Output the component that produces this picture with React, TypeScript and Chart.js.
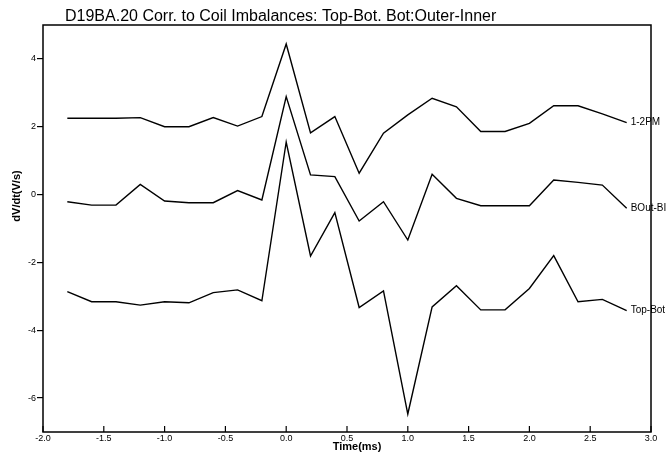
import React, { useEffect, useRef } from "react";
import { Chart, registerables } from "chart.js";

Chart.register(...registerables);

// ---- data ----
const times = [
  -1.8, -1.6, -1.4, -1.2, -1.0, -0.8, -0.6, -0.4, -0.2, 0.0, 0.2, 0.4,
  0.6, 0.8, 1.0, 1.2, 1.4, 1.6, 1.8, 2.0, 2.2, 2.4, 2.6, 2.8,
];
const series12PM = [
  2.25, 2.25, 2.25, 2.27, 2.0, 2.0, 2.27, 2.02, 2.3, 4.44, 1.82, 2.3,
  0.63, 1.81, 2.35, 2.84, 2.59, 1.86, 1.86, 2.1, 2.62, 2.62, 2.38, 2.12,
];
const seriesBOutBI = [
  -0.21, -0.31, -0.31, 0.3, -0.19, -0.24, -0.24, 0.12, -0.16, 2.89, 0.58, 0.53,
  -0.78, -0.21, -1.34, 0.6, -0.11, -0.33, -0.33, -0.33, 0.43, 0.36, 0.28, -0.4,
];
const seriesTopBot = [
  -2.86, -3.16, -3.16, -3.26, -3.16, -3.19, -2.89, -2.81, -3.13, 1.55, -1.81, -0.53,
  -3.33, -2.84, -6.47, -3.31, -2.69, -3.4, -3.4, -2.77, -1.8, -3.16, -3.09, -3.42,
];
const seriesNames = ["1-2PM", "BOut-BI", "Top-Bot"];
const xTickValues = [-2, -1.5, -1, -0.5, 0, 0.5, 1, 1.5, 2, 2.5, 3];
const yTickValues = [-6, -4, -2, 0, 2, 4];
const chartTitle = "D19BA.20 Corr. to Coil Imbalances: Top-Bot. Bot:Outer-Inner";
const xTitle = "Time(ms)";
const yTitle = "dV/dt(V/s)";

const FONT = '"Liberation Sans", Arial, Helvetica, sans-serif';

const toPoints = (vals: number[]) => times.map((t, i) => ({ x: t, y: vals[i] }));

const decorPlugin = {
  id: "decor",
  afterDraw(chart: any) {
    const { ctx, chartArea } = chart;
    const { left, top, right, bottom } = chartArea;
    const xs = chart.scales.x;
    ctx.save();
    ctx.strokeStyle = "#000";
    ctx.fillStyle = "#000";
    // frame
    ctx.lineWidth = 1.5;
    ctx.strokeRect(left, top, right - left, bottom - top);
    // inward x ticks
    ctx.lineWidth = 1.2;
    xTickValues.forEach((v) => {
      const px = xs.getPixelForValue(v);
      ctx.beginPath();
      ctx.moveTo(px, bottom);
      ctx.lineTo(px, bottom - 6);
      ctx.stroke();
    });
    // title
    ctx.font = `16px ${FONT}`;
    ctx.textAlign = "left";
    ctx.textBaseline = "alphabetic";
    ctx.fillText(chartTitle, 65, 20.5);
    // x title
    ctx.font = `bold 11px ${FONT}`;
    ctx.textAlign = "center";
    ctx.fillText(xTitle, 357, 450);
    // y title
    ctx.save();
    ctx.translate(17, 196);
    ctx.rotate(-Math.PI / 2);
    ctx.textAlign = "center";
    ctx.textBaseline = "middle";
    ctx.font = `bold 11px ${FONT}`;
    ctx.fillText(yTitle, 0, 0);
    ctx.restore();
    // series end labels
    ctx.font = `10px ${FONT}`;
    ctx.textAlign = "left";
    ctx.textBaseline = "middle";
    chart.data.datasets.forEach((ds: any, i: number) => {
      const meta = chart.getDatasetMeta(i);
      const pt = meta.data[meta.data.length - 1];
      if (pt) ctx.fillText(ds.label, pt.x + 4, pt.y);
    });
    ctx.restore();
  },
};

export default function App() {
  const canvasRef = useRef<HTMLCanvasElement | null>(null);

  useEffect(() => {
    if (!canvasRef.current) return;
    const mk = (label: string, vals: number[]) => ({
      label,
      data: toPoints(vals),
      borderColor: "#000",
      backgroundColor: "#000",
      borderWidth: 1.4,
      pointRadius: 0,
      tension: 0,
      fill: false,
    });
    const chart = new Chart(canvasRef.current, {
      type: "line",
      data: {
        datasets: [
          mk(seriesNames[0], series12PM),
          mk(seriesNames[1], seriesBOutBI),
          mk(seriesNames[2], seriesTopBot),
        ],
      },
      options: {
        animation: false,
        responsive: false,
        maintainAspectRatio: false,
        layout: { padding: { top: 25, right: 20, left: 0, bottom: 0 } },
        plugins: {
          legend: { display: false },
          title: { display: false },
          tooltip: { enabled: false },
        },
        scales: {
          x: {
            type: "linear",
            min: -2,
            max: 3,
            afterBuildTicks: (axis: any) => {
              axis.ticks = xTickValues.map((v) => ({ value: v }));
            },
            afterFit: (axis: any) => {
              axis.height = 22;
            },
            grid: { display: false, drawTicks: false },
            border: { display: false },
            ticks: {
              autoSkip: false,
              maxRotation: 0,
              padding: 1,
              color: "#000",
              font: { family: FONT, size: 9 },
              callback: (v: any) => Number(v).toFixed(1),
            },
          },
          y: {
            type: "linear",
            min: -7,
            max: 5,
            afterBuildTicks: (axis: any) => {
              axis.ticks = yTickValues.map((v) => ({ value: v }));
            },
            afterFit: (axis: any) => {
              axis.width = 43;
            },
            grid: {
              display: true,
              drawOnChartArea: false,
              drawTicks: true,
              tickLength: 6,
              color: "#000",
              lineWidth: 1.2,
            },
            border: { display: false },
            ticks: {
              padding: 1,
              color: "#000",
              font: { family: FONT, size: 9 },
              callback: (v: any) => String(v),
            },
          },
        },
      },
      plugins: [decorPlugin],
    } as any);
    return () => chart.destroy();
  }, []);

  return (
    <div style={{ position: "absolute", left: 0, top: 0, width: 671, height: 454, background: "#fff" }}>
      <canvas ref={canvasRef} width={671} height={454} style={{ display: "block" }} />
    </div>
  );
}
